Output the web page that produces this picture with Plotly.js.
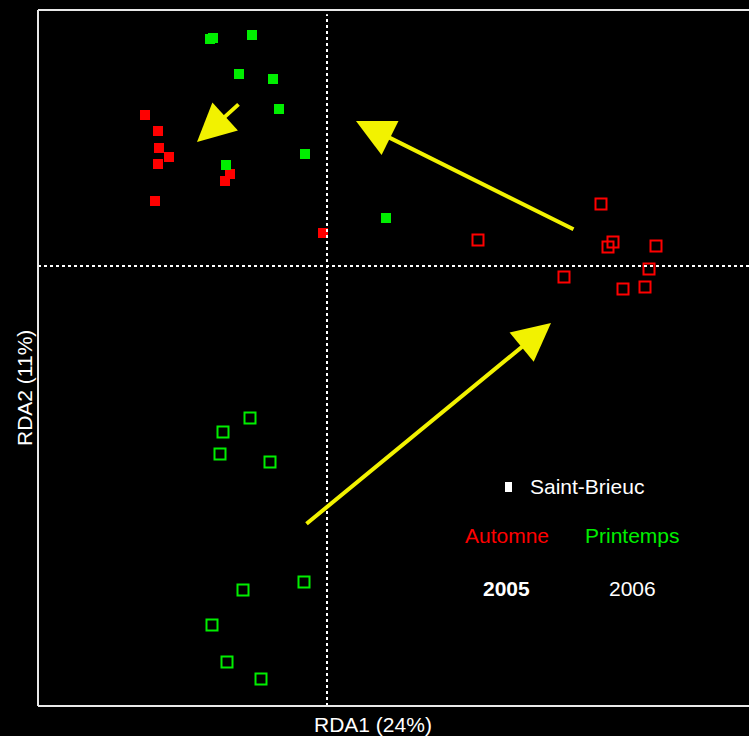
<!DOCTYPE html>
<html><head><meta charset="utf-8">
<script src="https://cdn.plot.ly/plotly-3.0.1.min.js"></script>
<style>html,body{margin:0;padding:0;background:#000;overflow:hidden}#chart{width:749px;height:736px}</style>
</head><body><div id="chart"></div>
<script>
// RDA scores (arbitrary units)
const autumn2005_x = [-1.82,-1.69,-1.68,-1.58,-1.69,-0.97,-1.02,-1.72,-0.04];
const autumn2005_y = [1.51,1.35,1.18,1.09,1.02,0.92,0.85,0.65,0.33];
const spring2005_x = [-1.17,-1.14,-0.75,-0.88,-0.54,-0.48,-0.22,-1.01,0.59];
const spring2005_y = [2.27,2.28,2.31,1.92,1.87,1.57,1.12,1.01,0.48];
const autumn2006_x = [2.74,1.51,2.86,2.81,3.29,3.22,2.37,2.96,3.18];
const autumn2006_y = [0.62,0.26,0.24,0.19,0.20,-0.03,-0.11,-0.23,-0.21];
const spring2006_x = [-0.77,-1.04,-1.07,-0.57,-0.23,-0.84,-1.15,-1.00,-0.66];
const spring2006_y = [-1.52,-1.66,-1.88,-1.96,-3.16,-3.24,-3.59,-3.96,-4.13];
// arrows: tail -> head
const arrowTailX = [-0.87, 2.48, -0.22];
const arrowTailY = [1.63, 0.36, -2.59];
const arrowHeadX = [-1.30, 0.29, 2.24];
const arrowHeadY = [1.24, 1.45, -0.57];

const frame = '#e8e8e8';
function sq(x,y,color,filled,name){
  return {type:'scatter',mode:'markers',x:x,y:y,name:name,hoverinfo:'skip',
    marker: filled ? {symbol:'square',size:10,color:color,line:{width:0}}
                   : {symbol:'square-open',size:11,color:color,line:{width:2,color:color}}};
}
const traces = [
  sq(autumn2005_x,autumn2005_y,'#ff0000',true,'Automne 2005'),
  sq(spring2005_x,spring2005_y,'#00ee00',true,'Printemps 2005'),
  sq(autumn2006_x,autumn2006_y,'#ff0000',false,'Automne 2006'),
  sq(spring2006_x,spring2006_y,'#00ee00',false,'Printemps 2006')
];
const font = "'Liberation Sans',Arial,sans-serif";
const annotations = arrowTailX.map((_,i)=>({
  x:arrowHeadX[i], y:arrowHeadY[i], ax:arrowTailX[i], ay:arrowTailY[i],
  xref:'x', yref:'y', axref:'x', ayref:'y', text:'', showarrow:true,
  arrowhead:2, arrowsize:1.9, arrowwidth:4, arrowcolor:'#f2f200', standoff:0
}));
function txt(x,y,t,color,anchor,extra){
  return Object.assign({xref:'paper',yref:'paper',x:x,y:y,xanchor:anchor,yanchor:'middle',showarrow:false,
    text:t,font:{family:font,size:21,color:color}},extra||{});
}
annotations.push(
  txt(0.6892,0.3147,'Saint-Brieuc','#ffffff','left'),
  txt(0.6603,0.2443,'Automne','#ff0000','center'),
  txt(0.8368,0.2443,'Printemps','#00ee00','center'),
  txt(0.6596,0.1695,'<b>2005</b>','#ffffff','center'),
  txt(0.8368,0.1695,'2006','#ffffff','center'),
  txt(0.4712,-0.0259,'RDA1 (24%)','#ffffff','center'),
  txt(-0.0183,0.4569,'RDA2 (11%)','#ffffff','center',{textangle:-90})
);
const shapes = [
  {type:'line',xref:'x',yref:'paper',x0:0,x1:0,y0:0,y1:0.994,line:{color:'#ffffff',width:2,dash:'dot'}},
  {type:'line',xref:'paper',yref:'y',x0:0,x1:1,y0:0,y1:0,line:{color:'#ffffff',width:2,dash:'dot'}},
  {type:'line',xref:'paper',yref:'paper',x0:0,x1:1,y0:1,y1:1,line:{color:frame,width:2}},
  {type:'line',xref:'paper',yref:'paper',x0:0,x1:0,y0:0,y1:1,line:{color:frame,width:2}},
  {type:'line',xref:'paper',yref:'paper',x0:0,x1:1,y0:0,y1:0,line:{color:frame,width:2}},
  // legend marker
  {type:'rect',xref:'paper',yref:'paper',x0:0.6568,x1:0.6667,y0:0.3075,y1:0.3218,fillcolor:'#ffffff',line:{width:0}}
];
const layout = {
  width:749,height:736,paper_bgcolor:'#000',plot_bgcolor:'#000',
  margin:{l:38,r:0,t:10,b:30},showlegend:false,
  xaxis:{range:[-2.89,4.22],showgrid:false,zeroline:false,showticklabels:false,ticks:'',showline:false},
  yaxis:{range:[-4.40,2.56],showgrid:false,zeroline:false,showticklabels:false,ticks:'',showline:false},
  annotations:annotations, shapes:shapes
};
Plotly.newPlot('chart',traces,layout,{staticPlot:true,displayModeBar:false});
</script></body></html>
